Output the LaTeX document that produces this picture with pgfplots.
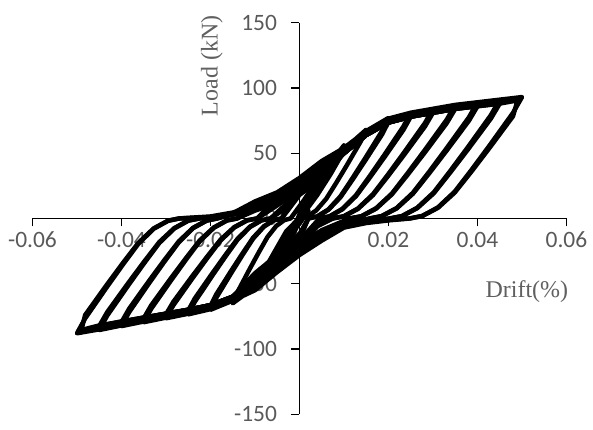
\documentclass[border=0pt]{standalone}
\usepackage{pgfplots}
\pgfplotsset{compat=1.18}
\usepackage{fontspec}
\setmainfont{Liberation Serif}
\newfontfamily\carlito{Carlito}
\definecolor{tickgray}{HTML}{595959}
\definecolor{labgray}{HTML}{606060}
\begin{document}
\begin{tikzpicture}
\begin{axis}[
  set layers,
  scale only axis, width=534.7pt, height=392pt,
  axis lines=middle,
  axis line style={-, black, line width=1.2pt},
  xmin=-0.06, xmax=0.06, ymin=-150, ymax=150,
  xtick={-0.06,-0.04,-0.02,0,0.02,0.04,0.06},
  xticklabels={-0.06,-0.04,-0.02,0,0.02,0.04,0.06},
  ytick={-150,-100,-50,0,50,100,150},
  yticklabels={-150,-100,-50,0,50,100,150},
  scaled ticks=false,
  hide obscured x ticks=false, hide obscured y ticks=false,
  tick align=outside, major tick length=8pt,
  tick style={black, line width=1.2pt},
  tick label style={font=\fontsize{23.5}{23.5}\selectfont\carlito, text=tickgray},
  yticklabel style={xshift=-11pt},
  xticklabel style={yshift=-2pt},
  clip=false,
  hyst/.style={black, line width=4.5pt, line join=round, line cap=round, mark=none},
]
\addplot[hyst] coordinates {
(0,0)
(0.0025,19) (0.005,38) (0.0035,29) (0.0015,14) (0,3) (-0.0015,-9) (-0.0035,-24) (-0.005,-36) (-0.0035,-27) (-0.0015,-13) (0,-2) (0.0015,8)
(0.005,33) (0.0075,45) (0.01,56) (0.0085,47) (0.006,32) (0.003,15) (0,1) (-0.003,-13) (-0.006,-31) (-0.0085,-45) (-0.01,-55) (-0.0085,-46) (-0.006,-31) (-0.003,-14) (0,0)
(0.003,16) (0.0065,38) (0.01,53) (0.013,62) (0.015,68) (0.0138,59.2) (0.01065,40.8) (0.00825,27.2) (0.006,15) (0.00375,6.1) (0.00165,1.4) (0,0) (-0.003,-12) (-0.0065,-36) (-0.01,-52) (-0.013,-60) (-0.015,-65) (-0.01396,-56.6) (-0.01123,-39) (-0.00915,-26) (-0.0072,-14.3) (-0.00525,-5.9) (-0.00343,-1.3) (-0.002,0)
(0.001,14) (0.005,35) (0.01,54) (0.015,67) (0.02,77) (0.01856,67) (0.01478,46.2) (0.0119,30.8) (0.0092,16.9) (0.0065,6.9) (0.00398,1.5) (0.002,0) (0,-16) (-0.005,-32) (-0.01,-46) (-0.015,-63) (-0.02,-70) (-0.01872,-60.9) (-0.01536,-42) (-0.0128,-28) (-0.0104,-15.4) (-0.008,-6.3) (-0.00576,-1.4) (-0.004,0)
(0,24) (0.005,37) (0.01,54) (0.015,67) (0.02,76.5) (0.025,81) (0.02336,70.5) (0.01906,48.6) (0.01578,32.4) (0.0127,17.8) (0.00963,7.3) (0.00676,1.6) (0.0045,0) (0,-21) (-0.005,-34) (-0.01,-48) (-0.015,-63) (-0.02,-69.5) (-0.025,-73.5) (-0.02352,-63.9) (-0.01964,-44.1) (-0.01668,-29.4) (-0.0139,-16.2) (-0.01113,-6.6) (-0.00854,-1.5) (-0.0065,0)
(-0.003,11) (0,25.5) (0.005,38.5) (0.01,54) (0.015,67) (0.02,76.5) (0.025,81) (0.03,84) (0.0282,73.1) (0.02348,50.4) (0.01988,33.6) (0.0165,18.5) (0.01313,7.6) (0.00998,1.7) (0.0075,0) (0.004,-6) (0,-22.5) (-0.005,-35.5) (-0.01,-49.5) (-0.015,-63) (-0.02,-69.5) (-0.025,-73) (-0.03,-76.5) (-0.02836,-66.6) (-0.02406,-45.9) (-0.02078,-30.6) (-0.0177,-16.8) (-0.01463,-6.9) (-0.01176,-1.5) (-0.0095,0)
(-0.005,16) (0,27) (0.005,40) (0.01,54) (0.015,67) (0.02,76.5) (0.025,81) (0.03,84) (0.035,87) (0.0331,75.7) (0.02813,52.2) (0.02433,34.8) (0.02078,19.1) (0.01722,7.8) (0.01391,1.7) (0.0113,0) (0.005,-13) (0,-24) (-0.005,-37) (-0.01,-51) (-0.015,-63) (-0.02,-69.5) (-0.025,-73) (-0.03,-76) (-0.035,-79.5) (-0.03332,-69.2) (-0.02891,-47.7) (-0.02555,-31.8) (-0.0224,-17.5) (-0.01925,-7.2) (-0.01631,-1.6) (-0.014,0)
(-0.01,10.5) (-0.005,17.5) (0,28.5) (0.005,41.5) (0.01,54) (0.015,67) (0.02,76.5) (0.025,81) (0.03,84) (0.035,87) (0.04,89) (0.03806,77.4) (0.03298,53.4) (0.02911,35.6) (0.02548,19.6) (0.02185,8) (0.01846,1.8) (0.0158,0) (0.01,-7) (0.005,-14.5) (0,-25.5) (-0.005,-38.5) (-0.01,-52.5) (-0.015,-63) (-0.02,-69.5) (-0.025,-73) (-0.03,-76) (-0.035,-79) (-0.04,-82.5) (-0.03828,-71.8) (-0.03377,-49.5) (-0.03033,-33) (-0.0271,-18.2) (-0.02388,-7.4) (-0.02087,-1.7) (-0.0185,0)
(-0.015,4) (-0.01,12) (-0.005,19) (0,30) (0.005,43) (0.01,54) (0.015,67) (0.02,76.5) (0.025,81) (0.03,84) (0.035,87) (0.04,89) (0.045,91) (0.04302,79.2) (0.03784,54.6) (0.03388,36.4) (0.03018,20) (0.02647,8.2) (0.02302,1.8) (0.0203,0) (0.015,-3.5) (0.01,-7) (0.005,-16) (0,-27) (-0.005,-40) (-0.01,-54) (-0.015,-63) (-0.02,-69.5) (-0.025,-73) (-0.03,-76) (-0.035,-79) (-0.04,-82) (-0.045,-85.5) (-0.0432,-74.4) (-0.03848,-51.3) (-0.03488,-34.2) (-0.0315,-18.8) (-0.02813,-7.7) (-0.02498,-1.7) (-0.0225,0)
(-0.02,1.5) (-0.015,4) (-0.01,13) (-0.005,20) (0,31) (0.005,44) (0.01,54) (0.015,67) (0.02,76.5) (0.025,81) (0.03,84) (0.035,87) (0.04,89) (0.045,91) (0.05,93) (0.04798,80.9) (0.04269,55.8) (0.03866,37.2) (0.03488,20.5) (0.0311,8.4) (0.02757,1.9) (0.0248,0) (0.02,-1.5) (0.015,-3.5) (0.01,-7) (0.005,-17) (0,-28) (-0.005,-41) (-0.01,-55) (-0.015,-63) (-0.02,-69.5) (-0.025,-73) (-0.03,-76) (-0.035,-79) (-0.04,-82) (-0.045,-85) (-0.05,-88) (-0.04816,-76.6) (-0.04333,-52.8) (-0.03965,-35.2) (-0.0362,-19.4) (-0.03275,-7.9) (-0.02953,-1.8) (-0.027,0)
(-0.02,1.5) (-0.015,4.5) (-0.01,10) (-0.005,17) (0,27)
};
% extra small cycles near the origin
\addplot[hyst] coordinates {
(0,0) (0.004,26) (0.0075,47) (0.005,30) (0.002,12) (0,2) (-0.004,-22) (-0.0075,-44) (-0.005,-28) (-0.002,-10) (0,0)
};
\addplot[hyst] coordinates {
(0,6) (0.005,30) (0.01,52) (0.007,34) (0.004,18) (0.001,4) (-0.003,-10) (-0.007,-34) (-0.01,-52) (-0.007,-36) (-0.004,-19) (0,-4) (0.002,6)
};
% second cycles at each drift level
\addplot[hyst] coordinates {
(-0.004,0) (0,18) (0.005,31) (0.01,50) (0.015,64) (0.02,74) (0.01856,64.4) (0.01478,44.4) (0.0119,29.6) (0.0092,16.2) (0.0065,6.6) (0.00398,1.4) (0.002,0) (0,-12) (-0.005,-28) (-0.01,-42) (-0.015,-60) (-0.02,-67) (-0.01872,-58.3) (-0.01536,-40.2) (-0.0128,-26.8) (-0.0104,-14.7) (-0.008,-6) (-0.00576,-1.3) (-0.004,0)
};
\addplot[hyst] coordinates {
(-0.0065,0) (-0.003,8) (0,19) (0.005,32) (0.01,50) (0.015,64) (0.02,73.5) (0.025,78) (0.02336,67.9) (0.01906,46.8) (0.01578,31.2) (0.0127,17.1) (0.00963,7) (0.00676,1.5) (0.0045,0) (0,-17) (-0.005,-30) (-0.01,-44) (-0.015,-60) (-0.02,-66.5) (-0.025,-70.5) (-0.02352,-61.3) (-0.01964,-42.3) (-0.01668,-28.2) (-0.0139,-15.5) (-0.01113,-6.3) (-0.00854,-1.4) (-0.0065,0)
};
\addplot[hyst] coordinates {
(-0.0095,0) (-0.005,10) (0,21.5) (0.005,34.5) (0.01,50) (0.015,64) (0.02,73.5) (0.025,78) (0.03,81) (0.0282,70.5) (0.02348,48.6) (0.01988,32.4) (0.0165,17.8) (0.01313,7.3) (0.00998,1.6) (0.0075,0) (0.004,-3) (0,-18.5) (-0.005,-31.5) (-0.01,-45.5) (-0.015,-60) (-0.02,-66.5) (-0.025,-70) (-0.03,-73.5) (-0.02836,-64) (-0.02406,-44.1) (-0.02078,-29.4) (-0.0177,-16.1) (-0.01463,-6.6) (-0.01176,-1.4) (-0.0095,0)
};
\addplot[hyst] coordinates {
(-0.014,0) (-0.01,6) (-0.005,12) (0,23) (0.005,36) (0.01,50) (0.015,64) (0.02,73.5) (0.025,78) (0.03,81) (0.035,84) (0.0331,73.1) (0.02813,50.4) (0.02433,33.6) (0.02078,18.5) (0.01722,7.5) (0.01391,1.6) (0.0113,0) (0.005,-9) (0,-20) (-0.005,-33) (-0.01,-47) (-0.015,-60) (-0.02,-66.5) (-0.025,-70) (-0.03,-73) (-0.035,-76.5) (-0.03332,-66.6) (-0.02891,-45.9) (-0.02555,-30.6) (-0.0224,-16.8) (-0.01925,-6.9) (-0.01631,-1.5) (-0.014,0)
};
\addplot[hyst] coordinates {
(-0.0185,0) (-0.015,3) (-0.01,6.5) (-0.005,13.5) (0,24.5) (0.005,37.5) (0.01,50) (0.015,64) (0.02,73.5) (0.025,78) (0.03,81) (0.035,84) (0.04,86) (0.03806,74.8) (0.03298,51.6) (0.02911,34.4) (0.02548,18.9) (0.02185,7.7) (0.01846,1.7) (0.0158,0) (0.01,-4) (0.005,-10.5) (0,-21.5) (-0.005,-34.5) (-0.01,-48.5) (-0.015,-60) (-0.02,-66.5) (-0.025,-70) (-0.03,-73) (-0.035,-76) (-0.04,-79.5) (-0.03828,-69.2) (-0.03377,-47.7) (-0.03033,-31.8) (-0.0271,-17.5) (-0.02388,-7.1) (-0.02087,-1.6) (-0.0185,0)
};
\addplot[hyst] coordinates {
(-0.0225,0) (-0.02,1) (-0.015,3) (-0.01,8) (-0.005,15) (0,26) (0.005,39) (0.01,50) (0.015,64) (0.02,73.5) (0.025,78) (0.03,81) (0.035,84) (0.04,86) (0.045,88) (0.04302,76.6) (0.03784,52.8) (0.03388,35.2) (0.03018,19.3) (0.02647,7.9) (0.02302,1.7) (0.0203,0) (0.015,-2.5) (0.01,-4) (0.005,-12) (0,-23) (-0.005,-36) (-0.01,-50) (-0.015,-60) (-0.02,-66.5) (-0.025,-70) (-0.03,-73) (-0.035,-76) (-0.04,-79) (-0.045,-82.5) (-0.0432,-71.8) (-0.03848,-49.5) (-0.03488,-33) (-0.0315,-18.1) (-0.02813,-7.4) (-0.02498,-1.6) (-0.0225,0)
};
\addplot[hyst] coordinates {
(-0.027,0) (-0.02,1) (-0.015,3) (-0.01,9) (-0.005,16) (0,27) (0.005,40) (0.01,50) (0.015,64) (0.02,73.5) (0.025,78) (0.03,81) (0.035,84) (0.04,86) (0.045,88) (0.049,90.5) (0.04798,78.3) (0.04269,54) (0.03866,36) (0.03488,19.8) (0.0311,8.1) (0.02757,1.8) (0.0248,0) (0.02,-1) (0.015,-2.5) (0.01,-4) (0.005,-13) (0,-24) (-0.005,-37) (-0.01,-51) (-0.015,-60) (-0.02,-66.5) (-0.025,-70) (-0.03,-73) (-0.035,-76) (-0.04,-79) (-0.045,-82) (-0.049,-85.5) (-0.04816,-74) (-0.04333,-51) (-0.03965,-34) (-0.0362,-18.7) (-0.03275,-7.6) (-0.02953,-1.7) (-0.027,0)
};
\node[rotate=90, font=\fontsize{24}{24}\selectfont, text=labgray] at (axis cs:-0.0197,117) {Load (kN)};
\node[font=\fontsize{24}{24}\selectfont, text=labgray] at (axis cs:0.0511,-56.2) {Drift(\%)};
\coordinate (bbll) at (axis cs:-0.0673,-161.9);
\coordinate (bbur) at (axis cs:0.06596,167.4);
\end{axis}
\pgfresetboundingbox
\path[use as bounding box] (bbll) rectangle (bbur);
\end{tikzpicture}
\end{document}
